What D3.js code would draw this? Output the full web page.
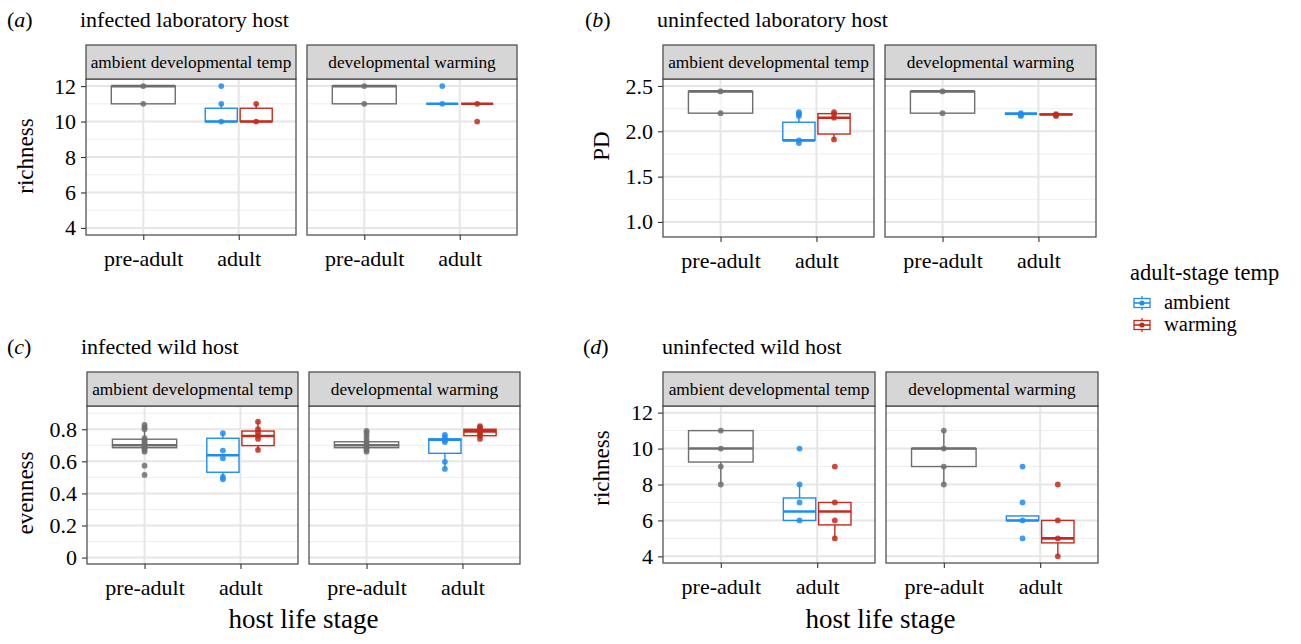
<!DOCTYPE html>
<html><head><meta charset="utf-8">
<script src="https://cdn.jsdelivr.net/npm/d3@7"></script>
<style>
html,body{margin:0;padding:0;background:#fff;}
text{font-family:"Liberation Serif","Times New Roman",Times,serif;fill:#000;}
</style></head>
<body>
<svg id="chart" width="1301" height="644"></svg>
<script>
// ---------- data ----------
const stages = ["pre-adult", "adult"];
const facets = ["ambient developmental temp", "developmental warming"];
const groups = ["ambient", "warming"];
const groupColors = {none: "#6e6e6e", ambient: "#1e8cf0", warming: "#c22b1d"};

// box stats: [facet, stage, group, lower, q1, median, q3, upper]
const boxesA = [
  [0, "pre-adult", "none", 11, 11, 12, 12, 12],
  [0, "adult", "ambient", 10, 10, 10, 10.75, 11],
  [0, "adult", "warming", 10, 10, 10, 10.75, 11],
  [1, "pre-adult", "none", 11, 11, 12, 12, 12],
  [1, "adult", "ambient", 11, 11, 11, 11, 11],
  [1, "adult", "warming", 11, 11, 11, 11, 11]
];
// points: [facet, stage, group, value]
const pointsA = [
  [0,"pre-adult","none",12],[0,"pre-adult","none",11],
  [0,"adult","ambient",12],[0,"adult","ambient",11],[0,"adult","ambient",10],
  [0,"adult","warming",11],[0,"adult","warming",10],
  [1,"pre-adult","none",12],[1,"pre-adult","none",11],
  [1,"adult","ambient",12],[1,"adult","ambient",11],
  [1,"adult","warming",11],[1,"adult","warming",10]
];
const boxesB = [
  [0, "pre-adult", "none", 2.2, 2.2, 2.44, 2.44, 2.44],
  [0, "adult", "ambient", 1.87, 1.90, 1.90, 2.10, 2.21],
  [0, "adult", "warming", 1.91, 1.97, 2.15, 2.195, 2.21],
  [1, "pre-adult", "none", 2.2, 2.2, 2.44, 2.44, 2.44],
  [1, "adult", "ambient", 2.17, 2.195, 2.195, 2.195, 2.2],
  [1, "adult", "warming", 2.17, 2.185, 2.185, 2.19, 2.19]
];
const pointsB = [
  [0,"pre-adult","none",2.44],[0,"pre-adult","none",2.2],
  [0,"adult","ambient",2.21],[0,"adult","ambient",2.19],[0,"adult","ambient",2.17],[0,"adult","ambient",1.90],[0,"adult","ambient",1.87],
  [0,"adult","warming",2.21],[0,"adult","warming",2.19],[0,"adult","warming",2.15],[0,"adult","warming",1.91],
  [1,"pre-adult","none",2.44],[1,"pre-adult","none",2.2],
  [1,"adult","ambient",2.2],[1,"adult","ambient",2.18],[1,"adult","ambient",2.17],
  [1,"adult","warming",2.19],[1,"adult","warming",2.18],[1,"adult","warming",2.17]
];
const boxesC = [
  [0, "pre-adult", "none", 0.66, 0.685, 0.70, 0.738, 0.80],
  [0, "adult", "ambient", 0.485, 0.532, 0.638, 0.744, 0.775],
  [0, "adult", "warming", 0.671, 0.698, 0.758, 0.789, 0.847],
  [1, "pre-adult", "none", 0.66, 0.685, 0.70, 0.722, 0.79],
  [1, "adult", "ambient", 0.553, 0.65, 0.735, 0.74, 0.765],
  [1, "adult", "warming", 0.74, 0.76, 0.787, 0.80, 0.82]
];
const pointsC = [
  [0,"pre-adult","none",0.827],[0,"pre-adult","none",0.812],[0,"pre-adult","none",0.80],[0,"pre-adult","none",0.745],
  [0,"pre-adult","none",0.73],[0,"pre-adult","none",0.72],[0,"pre-adult","none",0.71],[0,"pre-adult","none",0.70],
  [0,"pre-adult","none",0.695],[0,"pre-adult","none",0.69],[0,"pre-adult","none",0.68],[0,"pre-adult","none",0.67],
  [0,"pre-adult","none",0.66],[0,"pre-adult","none",0.573],[0,"pre-adult","none",0.515],
  [0,"adult","ambient",0.775],[0,"adult","ambient",0.667],[0,"adult","ambient",0.62],[0,"adult","ambient",0.503],[0,"adult","ambient",0.488],
  [0,"adult","warming",0.847],[0,"adult","warming",0.80],[0,"adult","warming",0.78],[0,"adult","warming",0.76],[0,"adult","warming",0.74],[0,"adult","warming",0.671],
  [1,"pre-adult","none",0.79],[1,"pre-adult","none",0.78],[1,"pre-adult","none",0.76],[1,"pre-adult","none",0.74],
  [1,"pre-adult","none",0.72],[1,"pre-adult","none",0.71],[1,"pre-adult","none",0.70],[1,"pre-adult","none",0.69],
  [1,"pre-adult","none",0.68],[1,"pre-adult","none",0.67],[1,"pre-adult","none",0.66],
  [1,"adult","ambient",0.765],[1,"adult","ambient",0.75],[1,"adult","ambient",0.73],[1,"adult","ambient",0.72],[1,"adult","ambient",0.597],[1,"adult","ambient",0.553],
  [1,"adult","warming",0.82],[1,"adult","warming",0.81],[1,"adult","warming",0.80],[1,"adult","warming",0.79],
  [1,"adult","warming",0.785],[1,"adult","warming",0.77],[1,"adult","warming",0.76],[1,"adult","warming",0.74]
];
const boxesD = [
  [0, "pre-adult", "none", 8, 9.25, 10, 11, 11],
  [0, "adult", "ambient", 6, 6, 6.5, 7.25, 8],
  [0, "adult", "warming", 5, 5.75, 6.5, 7, 7],
  [1, "pre-adult", "none", 8, 9, 10, 10, 11],
  [1, "adult", "ambient", 6, 6, 6, 6.25, 6.25],
  [1, "adult", "warming", 4, 4.75, 5, 6, 6]
];
const pointsD = [
  [0,"pre-adult","none",11],[0,"pre-adult","none",10],[0,"pre-adult","none",9],[0,"pre-adult","none",8],
  [0,"adult","ambient",10],[0,"adult","ambient",8],[0,"adult","ambient",7],[0,"adult","ambient",6],
  [0,"adult","warming",9],[0,"adult","warming",7],[0,"adult","warming",6],[0,"adult","warming",5],
  [1,"pre-adult","none",11],[1,"pre-adult","none",10],[1,"pre-adult","none",9],[1,"pre-adult","none",8],
  [1,"adult","ambient",9],[1,"adult","ambient",7],[1,"adult","ambient",6],[1,"adult","ambient",5],
  [1,"adult","warming",8],[1,"adult","warming",6],[1,"adult","warming",5],[1,"adult","warming",4]
];
const ticksA = [4, 6, 8, 10, 12], minorA = [5, 7, 9, 11];
const ticksB = [1.0, 1.5, 2.0, 2.5], minorB = [1.25, 1.75, 2.25];
const ticksC = [0, 0.2, 0.4, 0.6, 0.8], minorC = [0.1, 0.3, 0.5, 0.7, 0.9];
const ticksD = [4, 6, 8, 10, 12], minorD = [5, 7, 9, 11];

// ---------- layout ----------
const svg = d3.select("#chart");
const serif = '"Liberation Serif","Times New Roman",Times,serif';

const panels = [
  {letter:"a", title:"infected laboratory host", ylab:"richness", boxes:boxesA, points:pointsA,
   domain:[3.6,12.4], ticks:ticksA, minor:minorA, fmt:d=>d3.format("d")(d),
   x0:86, fw:210, gap:11, top:45, plotTop:79, bottom:235, letterX:7, titleX:80, titleY:27, ylabX:25, ylabY:156, xlab:false},
  {letter:"b", title:"uninfected laboratory host", ylab:"PD", boxes:boxesB, points:pointsB,
   domain:[0.834,2.577], ticks:ticksB, minor:minorB, fmt:d=>d3.format(".1f")(d),
   x0:663, fw:211, gap:11, top:45, plotTop:79, bottom:237, letterX:585, titleX:657, titleY:27, ylabX:601, ylabY:146, xlab:false},
  {letter:"c", title:"infected wild host", ylab:"evenness", boxes:boxesC, points:pointsC,
   domain:[-0.04,0.945], ticks:ticksC, minor:minorC, fmt:d=>d===0?"0":d3.format(".1f")(d),
   x0:87, fw:211, gap:11, top:372, plotTop:406, bottom:564, letterX:7, titleX:81, titleY:354, ylabX:25, ylabY:493, xlab:true},
  {letter:"d", title:"uninfected wild host", ylab:"richness", boxes:boxesD, points:pointsD,
   domain:[3.63,12.37], ticks:ticksD, minor:minorD, fmt:d=>d3.format("d")(d),
   x0:663, fw:212, gap:11, top:372, plotTop:406, bottom:563, letterX:583, titleX:662, titleY:354, ylabX:601, ylabY:468, xlab:true}
];

panels.forEach(p => {
  const g = svg.append("g");
  const y = d3.scaleLinear().domain(p.domain).range([p.bottom, p.plotTop]);

  // panel letter + title
  const lt = g.append("text").attr("x", p.letterX).attr("y", p.titleY).attr("font-size", 22);
  lt.append("tspan").text("(");
  lt.append("tspan").attr("font-style","italic").text(p.letter);
  lt.append("tspan").text(")");
  g.append("text").attr("x", p.titleX).attr("y", p.titleY).attr("font-size", 22).text(p.title);

  // y label
  g.append("text").attr("transform", `translate(${p.ylabX},${p.ylabY}) rotate(-90)`)
    .attr("text-anchor","middle").attr("dominant-baseline","central").attr("font-size", 23).text(p.ylab);

  // y axis ticks + labels (left of first facet)
  const yAxis = d3.axisLeft(y).tickValues(p.ticks).tickFormat(p.fmt).tickSize(5).tickPadding(5);
  const ya = g.append("g").attr("transform", `translate(${p.x0},0)`).call(yAxis);
  ya.select(".domain").remove();
  ya.selectAll("line").attr("stroke","#333").attr("stroke-width",1.1);
  ya.selectAll("text").attr("font-size", 22).attr("font-family", serif).attr("fill","#000");

  facets.forEach((f, fi) => {
    const fx0 = p.x0 + fi * (p.fw + p.gap), fx1 = fx0 + p.fw;
    const x = d3.scalePoint().domain(stages).range([fx0, fx1]).padding(0.6);
    const step = x.step();
    const offs = {none: 0, ambient: -0.183 * step, warming: 0.183 * step};
    const halfW = {none: 0.335 * step, ambient: 0.168 * step, warming: 0.168 * step};

    const fg = g.append("g");
    fg.append("rect").attr("x", fx0).attr("y", p.plotTop).attr("width", p.fw).attr("height", p.bottom - p.plotTop).attr("fill", "#fff");
    fg.selectAll(".mn").data(p.minor).join("line")
      .attr("x1", fx0).attr("x2", fx1).attr("y1", d => y(d)).attr("y2", d => y(d))
      .attr("stroke", "#eeeeee").attr("stroke-width", 1.0);
    fg.selectAll(".mj").data(p.ticks).join("line")
      .attr("x1", fx0).attr("x2", fx1).attr("y1", d => y(d)).attr("y2", d => y(d))
      .attr("stroke", "#e6e6e6").attr("stroke-width", 2);
    fg.selectAll(".vx").data(stages).join("line")
      .attr("x1", d => x(d)).attr("x2", d => x(d)).attr("y1", p.plotTop).attr("y2", p.bottom)
      .attr("stroke", "#e6e6e6").attr("stroke-width", 2);

    const bx = p.boxes.filter(b => b[0] === fi);
    bx.forEach(b => {
      const [, st, grp, lo, q1, med, q3, hi] = b;
      const cx = x(st) + offs[grp], hw = halfW[grp], col = groupColors[grp];
      const bg = fg.append("g").attr("stroke", col).attr("fill", "none");
      bg.append("line").attr("x1", cx).attr("x2", cx).attr("y1", y(q3)).attr("y2", y(hi)).attr("stroke-width", 1.4);
      bg.append("line").attr("x1", cx).attr("x2", cx).attr("y1", y(q1)).attr("y2", y(lo)).attr("stroke-width", 1.4);
      bg.append("rect").attr("x", cx - hw).attr("y", y(q3)).attr("width", 2 * hw)
        .attr("height", Math.max(0, y(q1) - y(q3))).attr("fill", "#fff").attr("fill-opacity", 0.6).attr("stroke-width", 1.4);
      bg.append("line").attr("x1", cx - hw).attr("x2", cx + hw).attr("y1", y(med)).attr("y2", y(med)).attr("stroke-width", 2.6);
    });

    const pts = p.points.filter(d => d[0] === fi);
    fg.selectAll(".pt").data(pts).join("circle")
      .attr("cx", d => x(d[1]) + offs[d[2]]).attr("cy", d => y(d[3])).attr("r", 2.9)
      .attr("fill", d => groupColors[d[2]]).attr("fill-opacity", 0.85);

    fg.append("rect").attr("x", fx0).attr("y", p.plotTop).attr("width", p.fw).attr("height", p.bottom - p.plotTop)
      .attr("fill", "none").attr("stroke", "#444").attr("stroke-width", 1.2);
    fg.append("rect").attr("x", fx0).attr("y", p.top).attr("width", p.fw).attr("height", p.plotTop - p.top)
      .attr("fill", "#d6d6d6").attr("stroke", "#444").attr("stroke-width", 1.2);
    fg.append("text").attr("x", (fx0 + fx1) / 2).attr("y", (p.top + p.plotTop) / 2 + 6)
      .attr("text-anchor", "middle").attr("font-size", 17.3).text(f);

    const xa = fg.append("g").attr("transform", `translate(0,${p.bottom})`)
      .call(d3.axisBottom(x).tickSize(5).tickPadding(10));
    xa.select(".domain").remove();
    xa.selectAll("line").attr("stroke", "#333").attr("stroke-width", 1.1);
    xa.selectAll("text").attr("font-size", 22).attr("font-family", serif).attr("fill", "#000");
  });

  if (p.xlab) {
    const cx = p.x0 + (2 * p.fw + p.gap) / 2;
    g.append("text").attr("x", cx).attr("y", 628).attr("text-anchor", "middle").attr("font-size", 27).text("host life stage");
  }
});

// ---------- legend ----------
const lg = svg.append("g").attr("transform", "translate(1130,0)");
lg.append("text").attr("x", 0).attr("y", 280).attr("font-size", 22.5).text("adult-stage temp");
groups.forEach((gname, i) => {
  const cy = 303 + i * 22, col = groupColors[gname];
  const k = lg.append("g").attr("stroke", col).attr("fill", "none");
  k.append("line").attr("x1", 12).attr("x2", 12).attr("y1", cy - 7).attr("y2", cy + 7).attr("stroke-width", 1.3);
  k.append("rect").attr("x", 4).attr("y", cy - 4.5).attr("width", 16).attr("height", 9).attr("fill", "#fff").attr("stroke-width", 1.3);
  k.append("line").attr("x1", 4).attr("x2", 20).attr("y1", cy).attr("y2", cy).attr("stroke-width", 1.6);
  k.append("circle").attr("cx", 12).attr("cy", cy).attr("r", 2.6).attr("fill", col).attr("stroke", "none");
  lg.append("text").attr("x", 34).attr("y", cy + 6).attr("font-size", 20.5).text(gname);
});
</script>
</body></html>
